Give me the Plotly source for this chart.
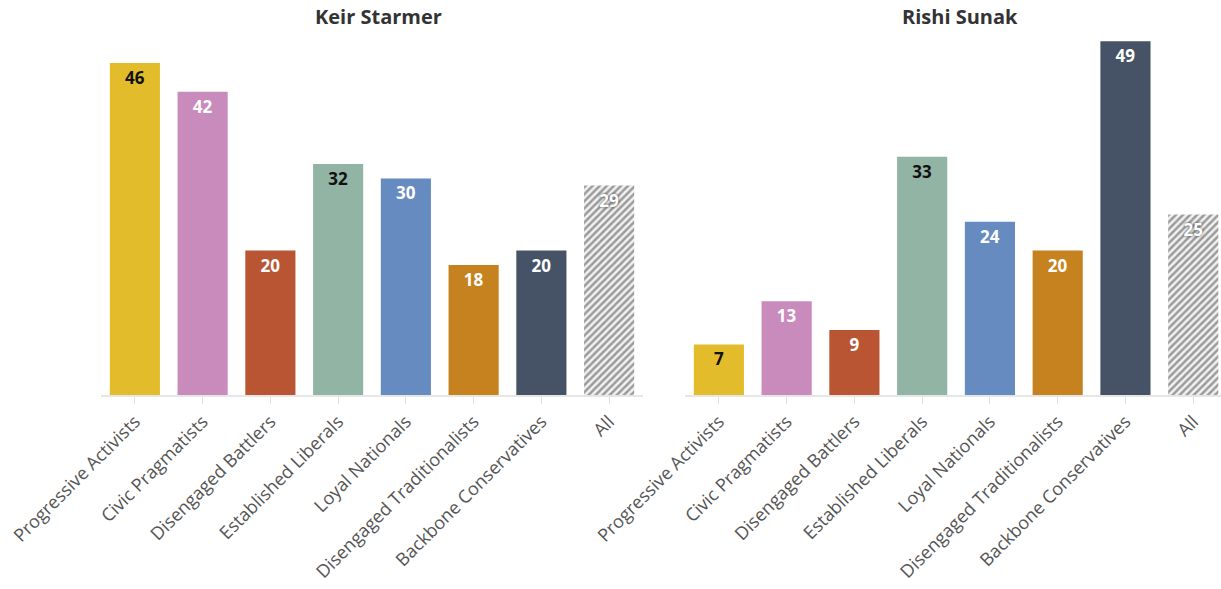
import plotly.graph_objects as go

segments = ["Progressive Activists", "Civic Pragmatists", "Disengaged Battlers",
            "Established Liberals", "Loyal Nationals", "Disengaged Traditionalists",
            "Backbone Conservatives", "All"]
starmer = [46, 42, 20, 32, 30, 18, 20, 29]
sunak = [7, 13, 9, 33, 24, 20, 49, 25]

bar_colors = ["#E3BC2B", "#C98BBB", "#BA5533", "#92B4A4", "#668BC0",
              "#C78220", "#465366", "#F2F2F2"]
text_colors = ["#111111", "#FFFFFF", "#FFFFFF", "#111111", "#FFFFFF",
               "#FFFFFF", "#FFFFFF", "#FFFFFF"]
shapes = ["", "", "", "", "", "", "", "/"]

FONT = "Open Sans"

fig = go.Figure()
for vals, xa, ya in [(starmer, "x", "y"), (sunak, "x2", "y2")]:
    fig.add_trace(go.Bar(
        x=segments, y=vals, xaxis=xa, yaxis=ya,
        width=0.74,
        marker=dict(color=bar_colors, line=dict(width=0),
                    pattern=dict(shape=shapes, fgcolor="#8E8E8E",
                                 bgcolor="#F2F2F2", size=5, solidity=0.5)),
        text=[str(v) for v in vals],
        textposition="inside", insidetextanchor="end",
        textangle=0,
        textfont=dict(family=FONT, size=17, color=text_colors, weight="bold",
                      shadow=["none"] * 7 + ["0px 0px 3px #444444"]),
        constraintext="none",
        showlegend=False, hoverinfo="skip",
    ))

axis_common = dict(
    type="category", showgrid=False, zeroline=False, automargin=False,
    showline=True, linecolor="#E6E6E6", linewidth=2,
    ticks="outside", ticklen=7, tickcolor="#E0E0E0", tickwidth=1,
    tickangle=-45, tickfont=dict(family=FONT, size=18, color="#555555"),
)
fig.update_layout(
    width=1221, height=589,
    margin=dict(l=0, r=0, t=34, b=194, autoexpand=False),
    paper_bgcolor="white", plot_bgcolor="white",
    xaxis=dict(domain=[101 / 1221, 643 / 1221], range=[-0.5, 7.5], **axis_common),
    xaxis2=dict(domain=[685 / 1221, 1.0], range=[-0.5, 7.41], **axis_common),
    yaxis=dict(range=[0, 50], visible=False),
    yaxis2=dict(range=[0, 50], visible=False, anchor="x2"),
)

# panel titles, placed in pixel terms near the top edge
plot_h = 589 - 34 - 194
title_y = 1 + (34 - 16) / plot_h
for name, xref in [("Keir Starmer", "x domain"), ("Rishi Sunak", "x2 domain")]:
    fig.add_annotation(text=f"<b>{name}</b>", x=0.5, xref=xref, xshift=7,
                       y=title_y, yref="paper",
                       yanchor="middle", showarrow=False,
                       font=dict(family=FONT, size=20, color="#333333"))

fig.write_html("out.html")
